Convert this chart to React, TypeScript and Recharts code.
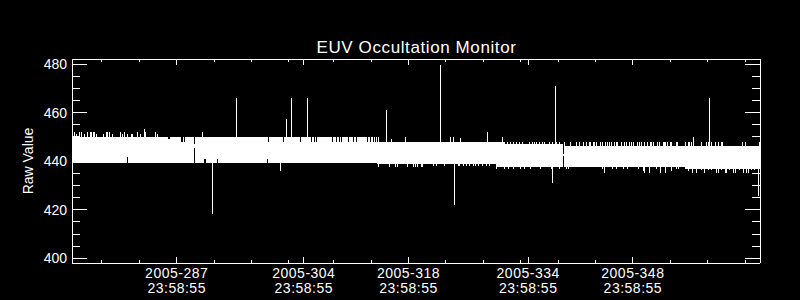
import React from 'react';
import { ComposedChart, Area, Line, XAxis, YAxis } from 'recharts';

// ---- axes ----
const X_DOMAIN: [number, number] = [273, 365];
const Y_DOMAIN: [number, number] = [398.1, 482.1];
const YEAR = '2005';
const TIME_LABEL = '23:58:55';
const MAJOR_DAYS = [287, 304, 318, 334, 348];
const MINOR_DAYS = [277, 282, 292, 297, 302, 308, 313, 323, 328, 333, 338, 343, 353, 358, 363];
const Y_MAJOR = [400, 420, 440, 460, 480];
const Y_MINOR = [405, 410, 415, 425, 430, 435, 445, 450, 455, 465, 470, 475];
const TITLE = 'EUV Occultation Monitor';
const Y_LABEL = 'Raw Value';

// ---- dense band of raw values (start day, low, high), stepped ----
const BAND_START = [273.0, 313.8, 329.7, 330.9, 338.8, 355.0, 365.0];
const BAND_LOW = [439.1, 439.0, 437.8, 437.8, 437.7, 437.0, 437.0];
const BAND_HIGH = [450.1, 448.0, 448.0, 447.2, 446.4, 446.4, 446.4];

// ---- isolated excursions (day, low, high) ----
const SPIKES: [number, number, number][] = [
  [291.76, 418.4, 439.1], [295.06, 450.1, 466.2], [300.85, 435.8, 439.1],
  [301.66, 450.1, 457.2], [302.32, 450.1, 466.2], [304.46, 450.1, 466.2],
  [313.78, 448, 450.1], [314.05, 448, 450.1], [315.03, 448, 461.3],
  [315.66, 448, 449.3], [317.57, 448, 450.1], [322.3, 448, 479.5],
  [323.55, 448, 450.1], [323.68, 448, 450.1], [323.99, 448, 450.1],
  [324.12, 421.8, 439.0], [324.92, 448, 449.5], [328.53, 448, 452.2],
  [330.54, 447.2, 450.1], [337.23, 430.9, 437.8], [337.63, 447.2, 471.0],
  [356.08, 446.4, 450.1], [358.22, 446.4, 466.2], [364.77, 425.5, 437.0],
];

// ---- small excursions above the band (day, low, high) ----
const TOP_FUZZ: [number, number, number][] = [
  [273.27, 450.1, 452], [273.63, 450.1, 451.4], [273.94, 450.1, 452], [274.3, 450.1, 452],
  [274.64, 450.1, 451.4], [275.1, 450.1, 452], [275.41, 450.1, 452], [275.61, 450.1, 452],
  [275.81, 450.1, 452], [276.01, 450.1, 452], [276.34, 450.1, 451.4], [277.19, 450.1, 451.4],
  [277.55, 450.1, 452], [277.77, 450.1, 452], [277.99, 450.1, 452], [278.39, 450.1, 451.4],
  [279.55, 450.1, 452], [279.78, 450.1, 451.4], [279.99, 450.1, 452], [280.39, 450.1, 451.4],
  [280.89, 450.1, 451.4], [281.09, 450.1, 451.4], [281.73, 450.1, 452], [282.16, 450.1, 451.4],
  [282.67, 450.1, 453.3], [282.8, 450.1, 452], [284.14, 450.1, 452], [284.41, 450.1, 451.4],
  [290.42, 450.1, 452],
  [330.9, 447.2, 448], [331.3, 447.2, 448], [331.7, 447.2, 448], [332.1, 447.2, 448],
  [332.5, 447.2, 448], [332.9, 447.2, 448], [333.3, 447.2, 448], [334.2, 447.2, 448],
  [334.6, 447.2, 448], [334.9, 447.2, 448], [335.1, 447.2, 448], [335.5, 447.2, 448],
  [335.9, 447.2, 448], [336.2, 447.2, 448], [336.9, 447.2, 448], [337.3, 447.2, 448],
  [337.8, 447.2, 448], [338.2, 447.2, 448],
  [338.9, 446.4, 448], [339.6, 446.4, 448], [340.5, 446.4, 448], [340.9, 446.4, 448],
  [341.4, 446.4, 448], [341.8, 446.4, 448], [342.2, 446.4, 448], [342.4, 446.4, 448],
  [342.7, 446.4, 448], [342.9, 446.4, 448], [343.2, 446.4, 448], [343.7, 446.4, 448],
  [344.0, 446.4, 448], [344.3, 446.4, 448], [344.6, 446.4, 448], [344.9, 446.4, 448],
  [345.2, 446.4, 448], [345.6, 446.4, 448], [345.8, 446.4, 448], [346.0, 446.4, 448],
  [346.5, 446.4, 448], [346.9, 446.4, 448], [347.1, 446.4, 448], [347.6, 446.4, 448],
  [347.8, 446.4, 448], [348.1, 446.4, 448], [348.6, 446.4, 448], [348.9, 446.4, 448],
  [349.1, 446.4, 448], [349.6, 446.4, 448], [350.0, 446.4, 448], [350.3, 446.4, 448],
  [350.5, 446.4, 448], [350.7, 446.4, 448], [351.3, 446.4, 448], [351.5, 446.4, 448],
  [352.1, 446.4, 448], [352.2, 446.4, 448], [352.4, 446.4, 448], [352.6, 446.4, 448],
  [353.0, 446.4, 448], [353.2, 446.4, 448], [353.8, 446.4, 448], [354.0, 446.4, 448],
  [355.1, 446.4, 448], [355.4, 446.4, 448], [355.6, 446.4, 448], [355.9, 446.4, 448],
  [357.15, 446.4, 448], [357.8, 446.4, 448], [358.1, 446.4, 448], [358.5, 446.4, 448],
  [359.0, 446.4, 448], [359.5, 446.4, 448], [359.8, 446.4, 448], [360.0, 446.4, 448],
  [362.7, 446.4, 448], [363.1, 446.4, 448], [364.9, 446.4, 448],
];

// ---- small excursions below the band (day, low, high) ----
const BOTTOM_FUZZ: [number, number, number][] = [
  [313.96, 437.7, 439.1], [315.43, 437.7, 439.1], [316.32, 437.7, 439.1], [316.59, 437.7, 439.1],
  [317.84, 437.7, 439.1], [318.6, 437.7, 439.1], [318.87, 437.7, 439.1], [319.23, 437.7, 439.1],
  [319.67, 437.7, 439.1], [319.9, 437.7, 439.1],
  [321.31, 437.9, 439.0], [321.77, 437.9, 439.0], [322.78, 437.9, 439.0], [324.66, 437.9, 439.0],
  [324.88, 437.9, 439.0], [325.32, 437.9, 439.0], [325.78, 437.9, 439.0], [326.22, 437.9, 439.0],
  [326.66, 437.9, 439.0], [327.02, 437.9, 439.0], [327.42, 437.9, 439.0], [327.87, 437.9, 439.0],
  [328.49, 437.9, 439.0], [328.89, 437.9, 439.0],
  [329.74, 436.9, 437.8], [330.81, 436.9, 437.8], [331.34, 436.9, 437.8], [332.01, 436.9, 437.8],
  [332.91, 436.9, 437.8], [333.48, 436.9, 437.8], [334.28, 436.9, 437.8], [335.62, 436.9, 437.8],
  [337.15, 436.9, 437.8], [338.16, 436.9, 437.8], [339.15, 436.9, 437.7], [339.37, 436.9, 437.7],
  [343.91, 437.0, 437.7], [344.18, 435.2, 437.7], [345.25, 437.0, 437.7], [345.84, 437.0, 437.7],
  [346.72, 437.0, 437.7], [347.31, 437.0, 437.7], [348.73, 437.0, 437.7], [349.39, 436.0, 437.7],
  [349.62, 435.2, 437.7], [350.29, 435.2, 437.7], [351.19, 437.0, 437.7], [351.63, 435.2, 437.7],
  [352.3, 435.2, 437.7], [353.19, 436.0, 437.7], [353.86, 437.0, 437.7], [354.07, 437.0, 437.7],
  [355.41, 436.0, 437.0], [355.95, 435.2, 437.0], [356.54, 435.2, 437.0], [357.2, 436.3, 437.0],
  [357.64, 435.2, 437.0], [358.09, 436.3, 437.0], [358.54, 436.3, 437.0], [359.21, 435.2, 437.0],
  [359.42, 435.2, 437.0], [359.88, 436.3, 437.0], [360.32, 435.2, 437.0], [360.55, 435.2, 437.0],
  [360.89, 436.3, 437.0], [361.52, 435.2, 437.0], [361.75, 435.2, 437.0], [362.23, 436.3, 437.0],
  [362.86, 435.2, 437.0], [363.13, 435.2, 437.0], [363.44, 435.2, 437.0], [363.89, 436.3, 437.0],
  [364.33, 436.3, 437.0],
];

// ---- data gaps / dropouts inside the band (day, low, high) ----
const GAPS: [number, number, number][] = [
  [280.39, 438.9, 441.9], [285.97, 449.2, 450.3], [286.1, 449.2, 450.3],
  [287.64, 448, 450.3], [287.84, 448, 450.3], [288.02, 448, 450.3],
  [289.35, 438.9, 445.4], [289.35, 447.3, 450.3],
  [290.74, 438.9, 441], [290.88, 438.9, 441], [292.52, 438.9, 441], [299.12, 438.9, 441],
  [299.25, 448, 450.3], [301.26, 448, 450.3], [303.62, 448, 450.3], [305.05, 448, 450.3],
  [305.4, 448, 450.3], [305.72, 448, 450.3], [307.86, 448, 450.3], [308.4, 448, 450.3],
  [308.75, 448, 450.3], [309.07, 448, 450.3], [309.95, 448, 450.3], [310.62, 448, 450.3],
  [311.07, 448, 450.3], [312.54, 448, 450.3], [312.9, 448, 450.3], [313.3, 448, 450.3],
  [313.6, 448, 450.3],
  [338.79, 437.5, 442.2], [338.79, 443.0, 447.5],
];

// ---- build the table the chart needs ----
type Row = { day: number; band?: [number, number]; spike?: number | null; gap?: number | null };
const buildRows = (): Row[] => {
  const rows: Row[] = [];
  BAND_START.forEach((d, i) => rows.push({ day: d, band: [BAND_LOW[i], BAND_HIGH[i]] }));
  GAPS.forEach(([d, lo, hi]) => rows.push({ day: d, gap: lo }, { day: d, gap: hi }, { day: d, gap: null }));
  [...SPIKES, ...TOP_FUZZ, ...BOTTOM_FUZZ].forEach(([d, lo, hi]) =>
    rows.push({ day: d, spike: lo }, { day: d, spike: hi }, { day: d, spike: null })
  );
  return rows
    .map((r, i) => ({ r, i }))
    .sort((a, b) => a.r.day - b.r.day || a.i - b.i)
    .map((o) => o.r);
};
const ROWS = buildRows();

const X_TICKS = [...MAJOR_DAYS, ...MINOR_DAYS].sort((a, b) => a - b);
const Y_TICKS = [...Y_MAJOR, ...Y_MINOR].sort((a, b) => a - b);

const FONT = '"Liberation Sans", Arial, sans-serif';
const FG = '#ffffff';

const BottomTick = (props: any) => {
  const { x, y, payload } = props;
  const major = MAJOR_DAYS.includes(payload.value);
  return (
    <g>
      <line x1={x} x2={x} y1={y} y2={y - (major ? 6 : 3)} stroke={FG} strokeWidth={1} />
      {major && (
        <text x={x} y={y + 15} textAnchor="middle" fill={FG} fontSize={14} fontFamily={FONT} letterSpacing={0.5}>
          <tspan x={x} dy={0}>{`${YEAR}-${payload.value}`}</tspan>
          <tspan x={x} dy={15}>{TIME_LABEL}</tspan>
        </text>
      )}
    </g>
  );
};

const TopTick = (props: any) => {
  const { x, y, payload } = props;
  const major = MAJOR_DAYS.includes(payload.value);
  return <line x1={x} x2={x} y1={y} y2={y + (major ? 6 : 3)} stroke={FG} strokeWidth={1} />;
};

const LeftTick = (props: any) => {
  const { x, y, payload } = props;
  const major = Y_MAJOR.includes(payload.value);
  return (
    <g>
      <line x1={x} x2={x + (major ? 15 : 8)} y1={y} y2={y} stroke={FG} strokeWidth={1} />
      {major && (
        <text x={x - 5} y={y + 5} textAnchor="end" fill={FG} fontSize={14} fontFamily={FONT}>
          {payload.value}
        </text>
      )}
    </g>
  );
};

const RightTick = (props: any) => {
  const { x, y, payload } = props;
  const major = Y_MAJOR.includes(payload.value);
  return <line x1={x} x2={x - (major ? 15 : 8)} y1={y} y2={y} stroke={FG} strokeWidth={1} />;
};

export default function App() {
  return (
    <div style={{ position: 'absolute', left: 0, top: 0, width: 800, height: 300, background: '#000' }}>
      <style>{`.recharts-surface line, .recharts-surface path { shape-rendering: crispEdges; }`}</style>
      <ComposedChart
        width={800}
        height={300}
        data={ROWS}
        margin={{ top: 58, right: 39, bottom: 0, left: 0 }}
      >
        <XAxis
          dataKey="day"
          type="number"
          domain={X_DOMAIN}
          allowDataOverflow
          ticks={X_TICKS}
          interval={0}
          height={37}
          tickSize={0}
          tickMargin={0}
          axisLine={{ stroke: FG }}
          tickLine={false}
          tick={<BottomTick />}
        />
        <XAxis
          xAxisId="top"
          orientation="top"
          dataKey="day"
          type="number"
          domain={X_DOMAIN}
          allowDataOverflow
          ticks={X_TICKS}
          interval={0}
          height={1}
          tickSize={0}
          tickMargin={0}
          axisLine={{ stroke: FG }}
          tickLine={false}
          tick={<TopTick />}
        />
        <YAxis
          type="number"
          domain={Y_DOMAIN}
          allowDataOverflow
          ticks={Y_TICKS}
          interval={0}
          width={72}
          tickSize={0}
          tickMargin={0}
          axisLine={{ stroke: FG }}
          tickLine={false}
          tick={<LeftTick />}
        />
        <YAxis
          yAxisId="right"
          orientation="right"
          type="number"
          domain={Y_DOMAIN}
          allowDataOverflow
          ticks={Y_TICKS}
          interval={0}
          width={1}
          tickSize={0}
          tickMargin={0}
          axisLine={{ stroke: FG }}
          tickLine={false}
          tick={<RightTick />}
        />
        <Area
          dataKey="band"
          type="stepAfter"
          stroke="none"
          fill={FG}
          fillOpacity={1}
          connectNulls
          isAnimationActive={false}
          dot={false}
          activeDot={false}
        />
        <Line
          dataKey="gap"
          type="linear"
          stroke="#000"
          strokeWidth={1}
          connectNulls={false}
          dot={false}
          activeDot={false}
          isAnimationActive={false}
        />
        <Line
          dataKey="spike"
          type="linear"
          stroke={FG}
          strokeWidth={1}
          connectNulls={false}
          dot={false}
          activeDot={false}
          isAnimationActive={false}
        />
      </ComposedChart>
      <svg
        width={800}
        height={300}
        style={{ position: 'absolute', left: 0, top: 0, pointerEvents: 'none' }}
      >
        <text x={416.5} y={53} textAnchor="middle" fill={FG} fontSize={17} fontFamily={FONT} letterSpacing={0.6}>
          {TITLE}
        </text>
        <text
          transform="translate(32.5,161) rotate(-90)"
          textAnchor="middle"
          fill={FG}
          fontSize={14}
          fontFamily={FONT}
        >
          {Y_LABEL}
        </text>
      </svg>
    </div>
  );
}
